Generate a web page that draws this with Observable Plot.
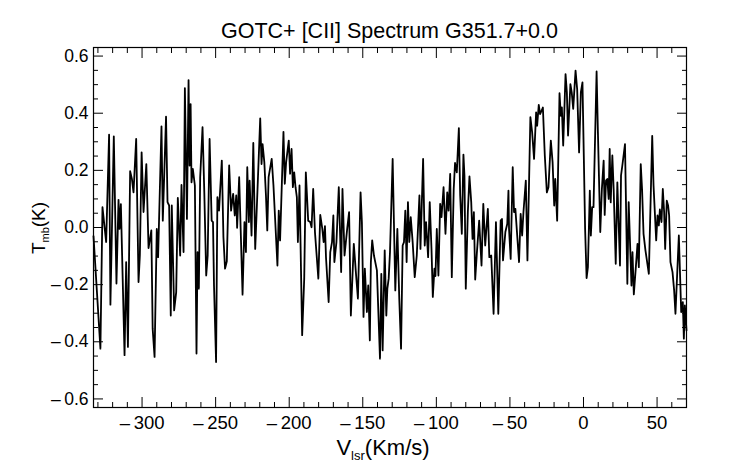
<!DOCTYPE html>
<html><head><meta charset="utf-8">
<script src="https://cdn.jsdelivr.net/npm/d3@7"></script>
<script src="https://cdn.jsdelivr.net/npm/@observablehq/plot@0.6"></script>
<style>
html,body{margin:0;padding:0;background:#fff;}
#chart{width:742px;height:464px;}
</style></head><body><div id="chart"></div>
<script>
const titleText = "GOTC+ [CII] Spectrum G351.7+0.0";

const velocity = [
-333.0,-328.3,-326.9,-324.4,-322.4,-321.5,-319.2,-317.4,-316.0,-315.3,-314.4,-311.9,-310.8,-309.6,-308.1,-306.9,-305.8,-304.0,-302.4,-301.5,-300.3,-299.0,-297.1,-295.6,-293.7,-292.8,-291.5,
-290.0,-289.1,-286.8,-285.9,-283.7,-282.7,-281.6,-280.5,-279.8,-278.2,-276.8,-275.7,-274.1,-273.2,-271.8,-270.9,-269.5,-268.4,-267.7,-267.0,-266.4,-265.5,-264.1,-263.0,-262.3,-261.4,-260.5,-258.9,-257.7,-256.4,-255.4,-254.1,-252.7,-251.8,
-251.1,-249.7,-248.8,-247.7,-245.8,-244.7,-243.6,-242.4,-240.8,-239.5,-238.1,-237.0,-236.0,-235.4,-234.0,-231.7,-230.4,-229.4,-228.5,-227.4,-226.9,-225.6,-224.4,-223.1,-222.2,-219.7,-218.8,-218.1,-216.9,-215.8,-214.9,-214.0,-211.9,
-210.7,-208.0,-207.1,-206.2,-203.9,-203.0,-202.1,-200.3,-199.4,-198.4,-197.5,-196.6,-195.7,-194.8,-194.1,-193.0,-191.2,-189.8,-188.7,-187.1,-185.7,-184.8,-183.7,-182.5,-180.2,-178.9,-177.5,-176.6,-175.7,-175.0,-173.2,-172.1,
-170.9,-170.0,-169.3,-167.9,-166.3,-164.7,-163.8,-162.4,-160.6,-159.3,-158.1,-156.1,-154.7,-153.3,-151.5,-150.6,-149.5,-148.6,-147.2,-146.3,-145.2,-144.5,-143.6,-142.4,-140.4,-138.3,-137.4,-136.5,-135.1,-134.0,-133.3,-132.4,-131.5,
-129.7,-127.9,-126.5,-125.2,-124.0,-122.9,-122.0,-121.1,-120.2,-119.3,-118.4,-117.4,-116.1,-114.7,-113.3,-111.5,-110.8,-109.0,-107.9,-107.0,-105.6,-104.5,-103.3,-102.4,-101.3,-100.6,-99.7,-98.6,-97.4,-96.5,-95.1,-93.8,-92.6,-91.7,-90.6,
-89.5,-88.2,-87.3,-86.1,-84.7,-83.8,-82.7,-81.6,-80.9,-80.0,-78.6,-77.5,-76.3,-75.4,-74.5,-73.6,-72.5,-70.9,-69.3,-68.1,-66.8,-65.0,-64.0,-62.7,-61.1,-59.5,-57.9,-56.3,-55.4,-54.7,-53.1,-51.8,-51.0,
-50.6,-49.5,-48.1,-47.2,-46.3,-43.8,-42.7,-41.7,-40.8,-39.2,-38.1,-36.1,-34.9,-33.6,-32.2,-31.5,-30.4,-29.5,-27.6,-26.3,-24.9,-23.8,-22.2,-21.0,-19.9,-19.2,-17.9,-16.3,-15.4,-14.7,-13.8,-12.2,-11.3,
-10.5,-8.9,-8.0,-7.0,-5.4,-4.3,-3.0,-1.8,-0.7,0.2,1.1,2.1,3.0,4.3,5.0,5.9,6.8,8.9,9.8,11.4,12.5,13.7,14.4,15.3,16.2,17.1,17.8,18.5,19.6,20.5,21.9,23.0,24.8,25.5,26.4,28.2,29.8,
30.7,32.6,33.3,34.2,35.5,36.7,37.6,38.9,39.8,40.8,42.1,44.4,46.7,47.6,49.4,50.3,51.2,51.9,53.0,53.9,54.8,55.5,56.6,57.5,58.2,59.1,60.5,61.6,62.5,64.8,66.4,67.5,68.2,68.9,70.0
];

const tmb = [
-0.030,-0.424,0.071,-0.051,0.325,-0.270,0.319,-0.196,0.097,-0.005,0.082,-0.447,-0.121,-0.418,0.197,0.170,0.123,0.310,-0.191,-0.098,0.263,0.054,0.222,-0.072,-0.010,-0.354,-0.453,
-0.005,-0.104,0.354,0.024,0.388,0.089,0.077,-0.308,0.077,-0.290,-0.226,0.104,-0.098,0.149,-0.086,0.488,0.030,0.516,0.217,0.432,0.158,0.205,0.147,-0.441,-0.086,-0.214,0.176,0.351,0.123,-0.168,-0.098,0.310,0.024,0.019,
-0.203,-0.471,0.106,0.059,0.234,-0.034,-0.144,-0.118,0.217,0.059,0.118,0.042,0.112,-0.001,0.176,-0.235,0.019,-0.086,0.211,0.019,0.164,-0.028,0.296,-0.075,0.044,0.382,0.222,0.292,0.228,0.112,-0.010,0.176,0.240,
0.147,-0.133,0.059,-0.045,0.335,0.153,0.228,0.304,0.188,0.275,0.141,0.193,0.141,0.106,-0.051,0.147,-0.377,-0.179,0.193,0.024,0.019,0.001,0.135,-0.016,-0.179,0.044,-0.005,-0.051,0.005,-0.104,-0.261,-0.086,
-0.051,0.042,-0.121,-0.051,0.141,-0.156,0.135,-0.098,-0.005,0.054,-0.308,-0.057,-0.156,-0.249,0.123,0.019,-0.313,-0.144,-0.296,-0.203,-0.395,-0.121,-0.045,-0.098,-0.150,-0.459,-0.162,-0.430,-0.080,-0.308,-0.214,-0.179,-0.086,
0.240,-0.220,-0.005,-0.249,-0.424,-0.063,-0.051,0.059,-0.121,0.089,-0.051,0.036,-0.051,-0.174,-0.098,0.112,-0.075,0.240,-0.063,0.019,-0.104,0.089,-0.075,-0.243,-0.144,-0.170,-0.005,-0.168,0.083,0.036,0.141,-0.022,0.123,0.059,0.188,
-0.174,0.135,0.226,0.193,0.348,0.112,-0.022,0.255,0.182,-0.214,0.054,0.179,0.089,-0.040,0.054,-0.182,-0.092,0.024,-0.133,0.083,-0.063,0.065,-0.104,-0.098,-0.302,0.019,-0.302,0.024,0.030,-0.115,-0.016,0.013,0.129,
-0.005,-0.110,0.211,0.054,0.065,-0.121,0.048,-0.028,0.054,0.164,-0.115,0.386,0.333,0.240,0.403,0.356,0.429,0.397,0.420,0.252,0.123,0.141,0.304,0.228,0.077,0.170,0.024,0.470,0.391,0.420,0.287,0.537,0.473,
0.322,0.502,0.473,0.415,0.549,0.484,0.263,0.473,0.508,0.252,-0.005,-0.177,-0.139,0.129,-0.028,0.071,0.071,0.546,0.333,-0.016,0.135,0.234,0.044,0.164,0.170,0.100,0.275,0.088,0.252,0.135,-0.127,0.158,-0.133,0.182,0.217,0.292,-0.197,
0.089,-0.203,-0.086,-0.234,-0.144,-0.057,-0.139,0.222,0.135,-0.022,-0.080,-0.162,0.321,0.147,-0.045,0.042,0.007,0.063,0.019,0.135,0.054,-0.075,0.094,0.077,0.042,-0.121,-0.156,-0.220,-0.302,-0.028,-0.296,-0.261,-0.389,-0.273,-0.360
];

const xMajorTicks = [-300,-250,-200,-150,-100,-50,0,50];
const xMinorTicks = [-330,-320,-310,-290,-280,-270,-260,-240,-230,-220,-210,-190,-180,-170,-160,-140,-130,-120,-110,-90,-80,-70,-60,-40,-30,-20,-10,10,20,30,40,60,70];
const yMajorTicks = [-0.6,-0.4,-0.2,0,0.2,0.4,0.6];
const yMinorTicks = [-0.55,-0.5,-0.45,-0.35,-0.3,-0.25,-0.15,-0.1,-0.05,0.05,0.1,0.15,0.25,0.3,0.35,0.45,0.5,0.55];

const spectrum = velocity.map((v, i) => ({v, t: tmb[i]}));
const font = "'Liberation Sans', Arial, Helvetica, sans-serif";

// IDL-style long minus: an en dash followed by a thin space
const idlMinus = (s) => s.replace(/^[\u2212-]/, "\u2013\u2009");
const fmtX = (d) => idlMinus(d3.format("d")(d));
const fmtY = (d) => idlMinus(d3.format(".1f")(d));

const tickAxes = [];
for (const anchor of ["bottom", "top"]) {
  tickAxes.push(Plot.axisX(xMajorTicks, {anchor, tickSize: -10, fill: "none", label: null, strokeWidth: 1}));
  tickAxes.push(Plot.axisX(xMinorTicks, {anchor, tickSize: -5, fill: "none", label: null, strokeWidth: 1}));
}
for (const anchor of ["left", "right"]) {
  tickAxes.push(Plot.axisY(yMajorTicks, {anchor, tickSize: -10, fill: "none", label: null, strokeWidth: 1}));
  tickAxes.push(Plot.axisY(yMinorTicks, {anchor, tickSize: -5, fill: "none", label: null, strokeWidth: 1}));
}

const plot = Plot.plot({
  width: 742, height: 464,
  marginLeft: 93, marginRight: 56, marginTop: 47, marginBottom: 57,
  style: {fontFamily: font, fontSize: "17px", background: "white", color: "black"},
  x: {domain: [-333, 70]},
  y: {domain: [-0.63, 0.63]},
  marks: [
    Plot.line(spectrum, {x: "v", y: "t", stroke: "black", strokeWidth: 1.8}),
    ...tickAxes,
    Plot.axisX(xMajorTicks, {anchor: "bottom", tickSize: 0, tickPadding: 8, stroke: "none", fontSize: 18.5, tickFormat: fmtX, label: null}),
    Plot.axisY(yMajorTicks, {anchor: "left", tickSize: 0, tickPadding: 5, stroke: "none", fontSize: 17.5, tickFormat: fmtY, label: null}),
    Plot.frame({stroke: "black", strokeWidth: 1.2})
  ]
});

const svg = d3.select(plot);
svg.append("text")
  .attr("x", 389.5).attr("y", 38)
  .attr("text-anchor", "middle")
  .attr("font-family", font).attr("font-size", 21.5)
  .attr("fill", "black")
  .text(titleText);

const xl = svg.append("text")
  .attr("x", 383).attr("y", 455)
  .attr("text-anchor", "middle")
  .attr("font-family", font).attr("font-size", 22).attr("fill", "black");
xl.append("tspan").text("V");
xl.append("tspan").attr("font-size", 13).attr("dy", 5).text("lsr");
xl.append("tspan").attr("dy", -5).text("(Km/s)");

const yl = svg.append("text")
  .attr("transform", "translate(45,228) rotate(-90)")
  .attr("text-anchor", "middle")
  .attr("font-family", font).attr("font-size", 19).attr("fill", "black");
yl.append("tspan").text("T");
yl.append("tspan").attr("font-size", 11).attr("dy", 4).text("mb");
yl.append("tspan").attr("dy", -4).text("(K)");

document.getElementById("chart").appendChild(plot);
</script></body></html>
